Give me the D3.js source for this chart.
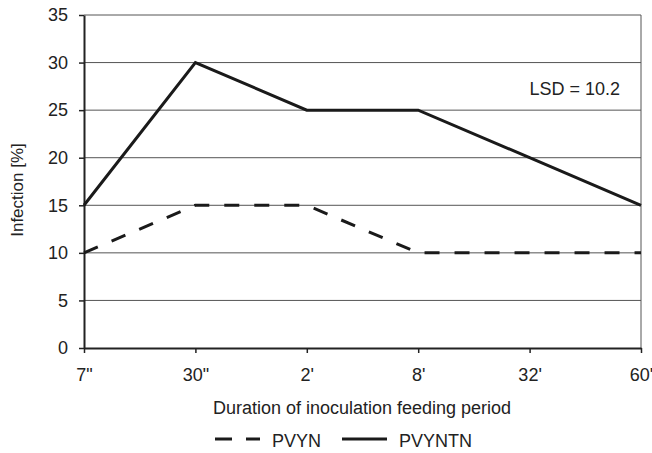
<!DOCTYPE html>
<html>
<head>
<meta charset="utf-8">
<script src="https://cdn.jsdelivr.net/npm/d3@7.9.0/dist/d3.min.js"></script>
<style>
  body { margin: 0; background: #fff; }
  svg text { font-family: "Liberation Sans", Arial, sans-serif; fill: #222; }
</style>
</head>
<body>
<svg id="chart" width="652" height="453"></svg>
<script>
// Chart data
const durations = ["7\"", "30\"", "2'", "8'", "32'", "60'"];
const pvyn = [10, 15, 15, 10, 10, 10];
const pvyntn = [15, 30, 25, 25, 20, 15];
const yTicks = [0, 5, 10, 15, 20, 25, 30, 35];

const margin = { top: 15, right: 11, bottom: 105, left: 84 },
      width = 652 - margin.left - margin.right,
      height = 453 - margin.top - margin.bottom;

const svgContainer = d3.select("#chart");

const svg = svgContainer.append("g")
    .attr("transform", `translate(${margin.left},${margin.top})`);

const xScale = d3.scalePoint()
    .domain(durations)
    .range([0, width])
    .padding(0);

const yScale = d3.scaleLinear()
    .domain([0, 35])
    .range([height, 0]);

// Gridlines
svg.append("g")
    .selectAll("line")
    .data(yTicks.filter(d => d > 0))
    .enter()
    .append("line")
    .attr("x1", 0)
    .attr("x2", width)
    .attr("y1", d => yScale(d))
    .attr("y2", d => yScale(d))
    .attr("stroke", "#555")
    .attr("stroke-width", 1);

// Right border
svg.append("line")
    .attr("x1", width)
    .attr("x2", width)
    .attr("y1", 0)
    .attr("y2", height)
    .attr("stroke", "#555")
    .attr("stroke-width", 1);

// X-axis
const xAxis = svg.append("g")
    .attr("transform", `translate(0,${height})`)
    .call(d3.axisBottom(xScale).tickSize(5).tickPadding(15).tickSizeOuter(0));

// Y-axis
const yAxis = svg.append("g")
    .call(d3.axisLeft(yScale).tickValues(yTicks).tickSize(5).tickPadding(11).tickSizeOuter(0));

[xAxis, yAxis].forEach(ax => {
    ax.select(".domain").attr("stroke", "#222").attr("stroke-width", 2);
    ax.selectAll(".tick line").attr("stroke", "#222").attr("stroke-width", 1.5);
    ax.selectAll(".tick text")
        .style("font-size", "18px")
        .style("font-family", "'Liberation Sans', Arial, sans-serif")
        .attr("fill", "#222");
});

// Lines
const line = d3.line()
    .x((d, i) => xScale(durations[i]))
    .y(d => yScale(d));

svg.append("path")
    .datum(pvyn)
    .attr("d", line)
    .attr("fill", "none")
    .attr("stroke", "#1a1a1a")
    .attr("stroke-width", 3)
    .attr("stroke-dasharray", "15,15");

svg.append("path")
    .datum(pvyntn)
    .attr("d", line)
    .attr("fill", "none")
    .attr("stroke", "#1a1a1a")
    .attr("stroke-width", 3);

// LSD annotation
svgContainer.append("text")
    .attr("x", 620)
    .attr("y", 95)
    .attr("text-anchor", "end")
    .style("font-size", "18px")
    .text("LSD = 10.2");

// X-axis label
svgContainer.append("text")
    .attr("x", 362)
    .attr("y", 414)
    .attr("text-anchor", "middle")
    .style("font-size", "18px")
    .text("Duration of inoculation feeding period");

// Y-axis label
svgContainer.append("text")
    .attr("transform", "rotate(-90)")
    .attr("x", -190)
    .attr("y", 23)
    .attr("text-anchor", "middle")
    .style("font-size", "17px")
    .text("Infection [%]");

// Legend
const legendItems = [
    { name: "PVYN", dash: "17,14", x: 215 },
    { name: "PVYNTN", dash: null, x: 342 }
];

const legend = svgContainer.append("g")
    .attr("transform", "translate(0,439)");

legend.selectAll("line")
    .data(legendItems)
    .enter()
    .append("line")
    .attr("x1", d => d.x)
    .attr("x2", d => d.x + 45)
    .attr("y1", 0)
    .attr("y2", 0)
    .attr("stroke", "#1a1a1a")
    .attr("stroke-width", 3)
    .attr("stroke-dasharray", d => d.dash);

legend.selectAll("text")
    .data(legendItems)
    .enter()
    .append("text")
    .attr("x", d => d.x + 57)
    .attr("y", 8)
    .style("font-size", "18px")
    .text(d => d.name);
</script>
</body>
</html>
